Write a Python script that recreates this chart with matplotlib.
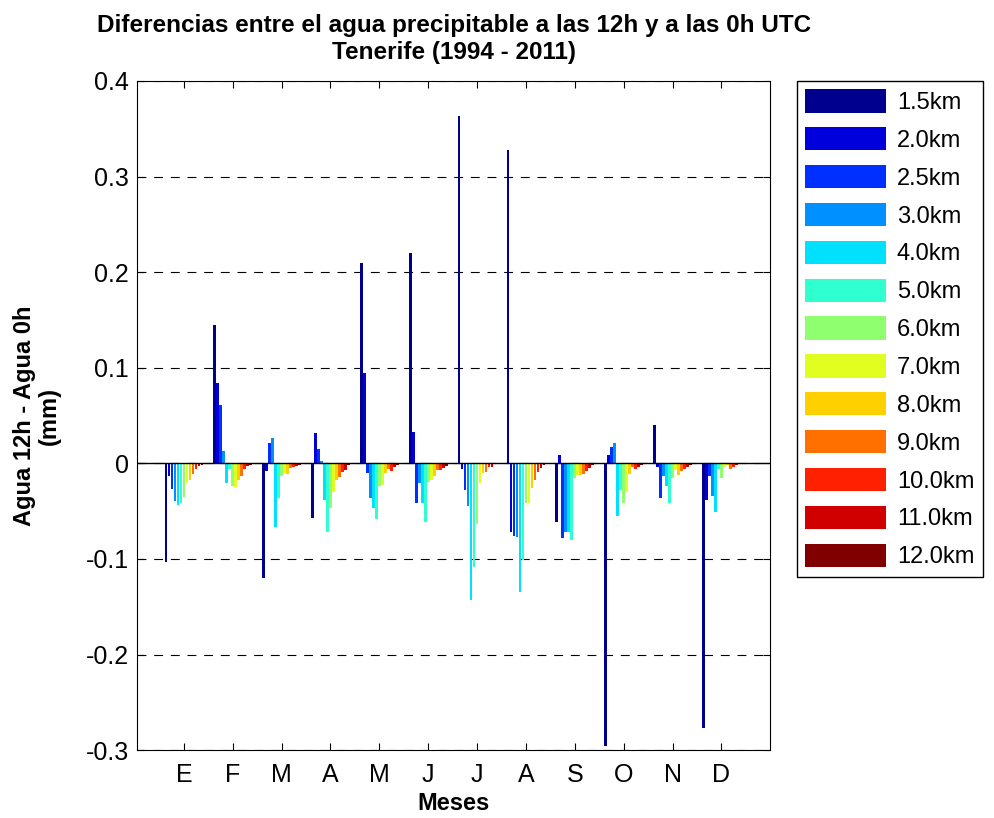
import numpy as np
import matplotlib
matplotlib.use("Agg")
import matplotlib.pyplot as plt
from matplotlib.patches import Patch

plt.rcParams['font.family'] = ['Liberation Sans', 'DejaVu Sans']

# Month labels (Spanish initials)
meses = ["E", "F", "M", "A", "M", "J", "J", "A", "S", "O", "N", "D"]

# Heights of each series
alturas = ["1.5km", "2.0km", "2.5km", "3.0km", "4.0km", "5.0km", "6.0km",
           "7.0km", "8.0km", "9.0km", "10.0km", "11.0km", "12.0km"]

# Differences (mm) per month, one value per height
ene = [-0.103, -0.013, -0.027, -0.039, -0.044, -0.042, -0.035, -0.021, -0.017, -0.011, -0.006, -0.003, -0.002]
feb = [0.145, 0.084, 0.061, 0.013, -0.021, -0.006, -0.0235, -0.025, -0.017, -0.013, -0.006, -0.003, -0.002]
mar = [-0.120, -0.008, 0.021, 0.027, -0.067, -0.036, -0.013, -0.010, -0.011, -0.0045, -0.004, -0.003, -0.002]
abr = [-0.057, 0.0315, 0.0147, 0.002, -0.038, -0.072, -0.047, -0.030, -0.017, -0.014, -0.009, -0.007, -0.002]
may = [0.210, 0.0945, -0.0105, -0.036, -0.047, -0.058, -0.024, -0.023, -0.0105, -0.006, -0.0075, -0.0035, -0.002]
jun = [0.220, 0.033, -0.041, -0.021, -0.041, -0.061, -0.020, -0.017, -0.013, -0.007, -0.007, -0.0045, -0.0025]
jul = [0.3637, -0.0063, -0.028, -0.0448, -0.1427, -0.1085, -0.063, -0.021, -0.0105, -0.009, -0.004, -0.0035, -0.001]
ago = [0.3277, -0.072, -0.076, -0.077, -0.1347, -0.1008, -0.042, -0.042, -0.0255, -0.017, -0.0087, -0.0045, -0.002]
sep = [-0.061, 0.0084, -0.078, -0.072, -0.072, -0.080, -0.015, -0.012, -0.0125, -0.011, -0.0085, -0.0045, -0.002]
octu = [-0.296, 0.0084, 0.0168, 0.0217, -0.055, -0.028, -0.042, -0.030, -0.011, -0.004, -0.006, -0.004, -0.002]
nov = [0.0402, -0.004, -0.036, -0.013, -0.0235, -0.041, -0.015, -0.007, -0.0125, -0.008, -0.006, -0.004, -0.002]
dic = [-0.277, -0.038, -0.013, -0.034, -0.051, -0.006, -0.015, -0.004, -0.002, -0.006, -0.004, -0.002, -0.001]

colores = ["#00008f", "#0000dc", "#0030ff", "#0090ff", "#00e0ff", "#30ffd0",
           "#8fff70", "#e0ff20", "#ffd000", "#ff7000", "#ff2000", "#d00000",
           "#800000"]

datos = np.array([ene, feb, mar, abr, may, jun, jul, ago, sep, octu, nov, dic])

fig = plt.figure(figsize=(9.95, 8.18), dpi=100)
ax = fig.add_axes([0.1377, 0.083, 0.6364, 0.818])

x = np.arange(1, 13)
n = len(alturas)
ancho_grupo = 0.8
paso = ancho_grupo / n
for j in range(n):
    pos = x - ancho_grupo / 2 + paso * (j + 0.5)
    ax.bar(pos, datos[:, j], width=paso * 0.9, color=colores[j],
           edgecolor="none", zorder=3)

ax.axhline(0, color="black", lw=1, zorder=4)

ax.set_xlim(0.04, 13.0)
ax.set_ylim(-0.3, 0.4)
ax.set_xticks(x)
ax.set_xticklabels(meses)
ax.set_yticks([-0.3, -0.2, -0.1, 0, 0.1, 0.2, 0.3, 0.4])
ax.set_yticklabels(["-0.3", "-0.2", "-0.1", "0", "0.1", "0.2", "0.3", "0.4"])
ax.tick_params(direction="in", length=5, labelsize=18, top=True, right=True)
ax.tick_params(axis="x", pad=9)
ax.tick_params(axis="y", pad=6)
ax.yaxis.grid(True, linestyle=(0, (8, 7)), color="black", lw=0.8, zorder=1)

ax.set_title("Diferencias entre el agua precipitable a las 12h y a las 0h UTC\n"
             "Tenerife (1994 - 2011)", fontsize=17.5, fontweight="bold", pad=16,
             linespacing=1.2)
ax.set_xlabel("Meses", fontsize=17, fontweight="bold", labelpad=4)
ax.set_ylabel("Agua 12h - Agua 0h\n(mm)", fontsize=17, fontweight="bold",
              labelpad=18, linespacing=1.1)

handles = [Patch(facecolor=c, edgecolor="none") for c in colores]
fig.legend(handles, alturas, loc="upper left",
           bbox_to_anchor=(797 / 995, 1 - 81 / 818), borderaxespad=0,
           fontsize=17, handlelength=3.43, handleheight=1.14,
           labelspacing=0.56, handletextpad=0.45, borderpad=0.35,
           frameon=True, fancybox=False, edgecolor="black", framealpha=1)

fig.savefig("out.png", dpi=100)
